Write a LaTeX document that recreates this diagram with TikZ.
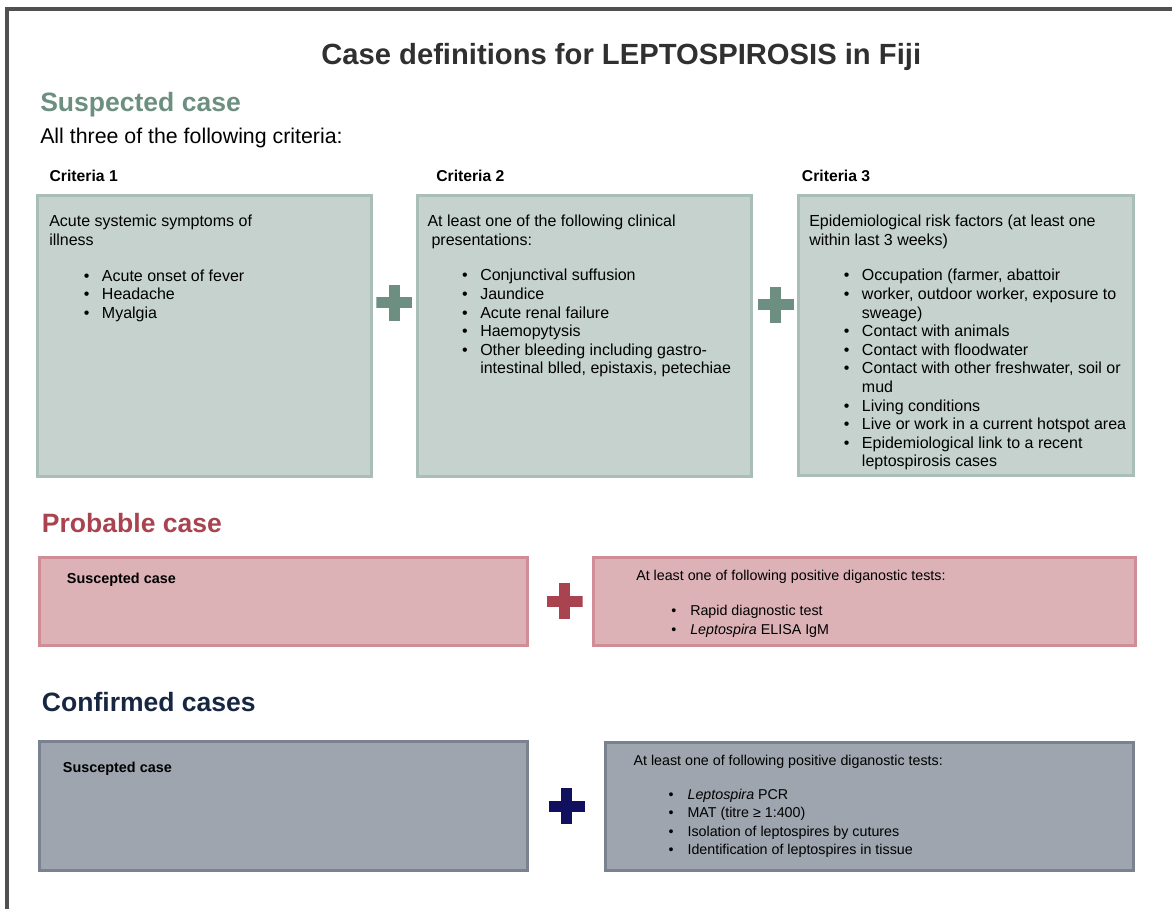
\documentclass[tikz,border=0pt]{standalone}
\usepackage{fontspec}
\setmainfont{Liberation Sans}
\usetikzlibrary{fit}
\newdimen\pxu \pxu=0.75pt
\definecolor{gfill}{HTML}{C5D2CE}
\definecolor{gline}{HTML}{A9BEB7}
\definecolor{gtext}{HTML}{6C8F81}
\definecolor{rfill}{HTML}{DCB2B7}
\definecolor{rline}{HTML}{CF8E95}
\definecolor{rtext}{HTML}{A8434F}
\definecolor{bfill}{HTML}{9EA5AF}
\definecolor{bline}{HTML}{7A8290}
\definecolor{btext}{HTML}{182741}
\definecolor{bplus}{HTML}{10105E}
\definecolor{frame}{HTML}{505050}
\definecolor{titlec}{HTML}{303030}
\newcommand\bx[1]{\hspace*{34.5\pxu}\makebox[18.2\pxu][l]{\textbullet}#1}
\newcommand\cx[1]{\hspace*{52.7\pxu}#1}
\newcommand\bxs[1]{\hspace*{35\pxu}\makebox[19\pxu][l]{\textbullet}#1}
\newcommand\lines[1]{\begin{tabular}[t]{@{}l@{}}#1\end{tabular}}
\tikzset{
  box/.style={draw=#1line, fill=#1fill, line width=3\pxu, inner sep=0pt},
  txt/.style={anchor=base west, inner sep=0pt},
  bigtxt/.style={txt, font=\fontsize{12}{13.95}\selectfont},
  smalltxt/.style={txt, font=\fontsize{10.7}{13.8}\selectfont},
  heading/.style={txt, font=\fontsize{19.9}{24}\selectfont\bfseries, text=#1},
  crit/.style={txt, font=\fontsize{11.8}{14}\selectfont\bfseries},
  susc/.style={txt, font=\fontsize{10.8}{13}\selectfont\bfseries},
  plussign/.style={minimum width=36\pxu, minimum height=36\pxu, inner sep=0pt,
    path picture={
      \fill[#1] ([yshift=-5.5\pxu]path picture bounding box.west) rectangle ([yshift=5.5\pxu]path picture bounding box.east);
      \fill[#1] ([xshift=-5.5\pxu]path picture bounding box.south) rectangle ([xshift=5.5\pxu]path picture bounding box.north);
    }},
}
\begin{document}
\begin{tikzpicture}[x=0.75pt, y=-0.75pt]
\useasboundingbox (0,0) rectangle (1172,909);
% frame
\coordinate (fbl) at (7.2,909);
\coordinate (ftl) at (7.2,9.2);
\coordinate (ftr) at (1172,9.2);
\draw[frame, line width=3.7\pxu] (fbl) -- (ftl) -- (ftr);
% title
\node[anchor=base, inner sep=0pt, font=\fontsize{21.9}{26}\selectfont\bfseries, text=titlec] (title) at (621.2,64.3) {Case definitions for LEPTOSPIROSIS in Fiji};
% suspected
\node[heading=gtext] (hs) at (40,111.7) {Suspected case};
\node[txt, font=\fontsize{16}{19}\selectfont] (all) at (40,144) {All three of the following criteria:};
\node[crit] (k1) at (49.3,181.2) {Criteria 1};
\node[crit] (k2) at (436,181.2) {Criteria 2};
\node[crit] (k3) at (801.7,181.2) {Criteria 3};
\node[box=g, fit={(37.5,195.5) (371.2,476.8)}] (c1) {};
\node[box=g, fit={(417.5,195.5) (751.8,476.5)}] (c2) {};
\node[box=g, fit={(798.8,195.5) (1133.5,475.5)}] (c3) {};
\node[bigtxt] (t1) at (49,227) {\lines{Acute systemic symptoms of\\illness\\[12.8pt]
\bx{Acute onset of fever}\\\bx{Headache}\\\bx{Myalgia}}};
\node[bigtxt] (t2) at (427.3,226.7) {\lines{At least one of the following clinical\\\hspace*{4\pxu}presentations:\\[12.8pt]
\bx{Conjunctival suffusion}\\\bx{Jaundice}\\\bx{Acute renal failure}\\\bx{Haemopytysis}\\
\bx{Other bleeding including gastro-}\\\cx{intestinal blled, epistaxis, petechiae}}};
\node[bigtxt] (t3) at (809,226.7) {\lines{Epidemiological risk factors (at least one\\within last 3 weeks)\\[12.8pt]
\bx{Occupation (farmer, abattoir}\\\bx{worker, outdoor worker, exposure to}\\\cx{sweage)}\\
\bx{Contact with animals}\\\bx{Contact with floodwater}\\\bx{Contact with other freshwater, soil or}\\\cx{mud}\\
\bx{Living conditions}\\\bx{Live or work in a current hotspot area}\\\bx{Epidemiological link to a recent}\\\cx{leptospirosis cases}}};
\node[plussign=gtext] (p1) at (394.3,302.8) {};
\node[plussign=gtext] (p2) at (775.8,305) {};
% probable
\node[heading=rtext] (hp) at (41.7,532.7) {Probable case};
\node[box=r, fit={(39.8,557.2) (527.8,645.8)}] (pl) {};
\node[box=r, fit={(593.8,557.2) (1135.2,645.8)}] (pr) {};
\node[susc] (s1) at (66.7,583.3) {Suscepted case};
\node[smalltxt] (t4) at (636,580.7) {\lines{At least one of following positive diganostic tests:\\[12.6pt]
\bxs{Rapid diagnostic test}\\\bxs{\textit{Leptospira} ELISA IgM}}};
\node[plussign=rtext] (p3) at (564.7,601.3) {};
% confirmed
\node[heading=btext] (hc) at (41.7,711) {Confirmed cases};
\node[box=b, fit={(39.8,741.5) (527.5,870.2)}] (cl) {};
\node[box=b, fit={(605.8,742.2) (1133.5,870.2)}] (cr) {};
\node[susc] (s2) at (62.7,772.7) {Suscepted case};
\node[smalltxt] (t5) at (633.3,765) {\lines{At least one of following positive diganostic tests:\\[12pt]
\bxs{\textit{Leptospira} PCR}\\\bxs{MAT (titre ≥ 1:400)}\\\bxs{Isolation of leptospires by cutures}\\\bxs{Identification of leptospires in tissue}}};
\node[plussign=bplus] (p4) at (566.8,806) {};
\end{tikzpicture}
\end{document}
